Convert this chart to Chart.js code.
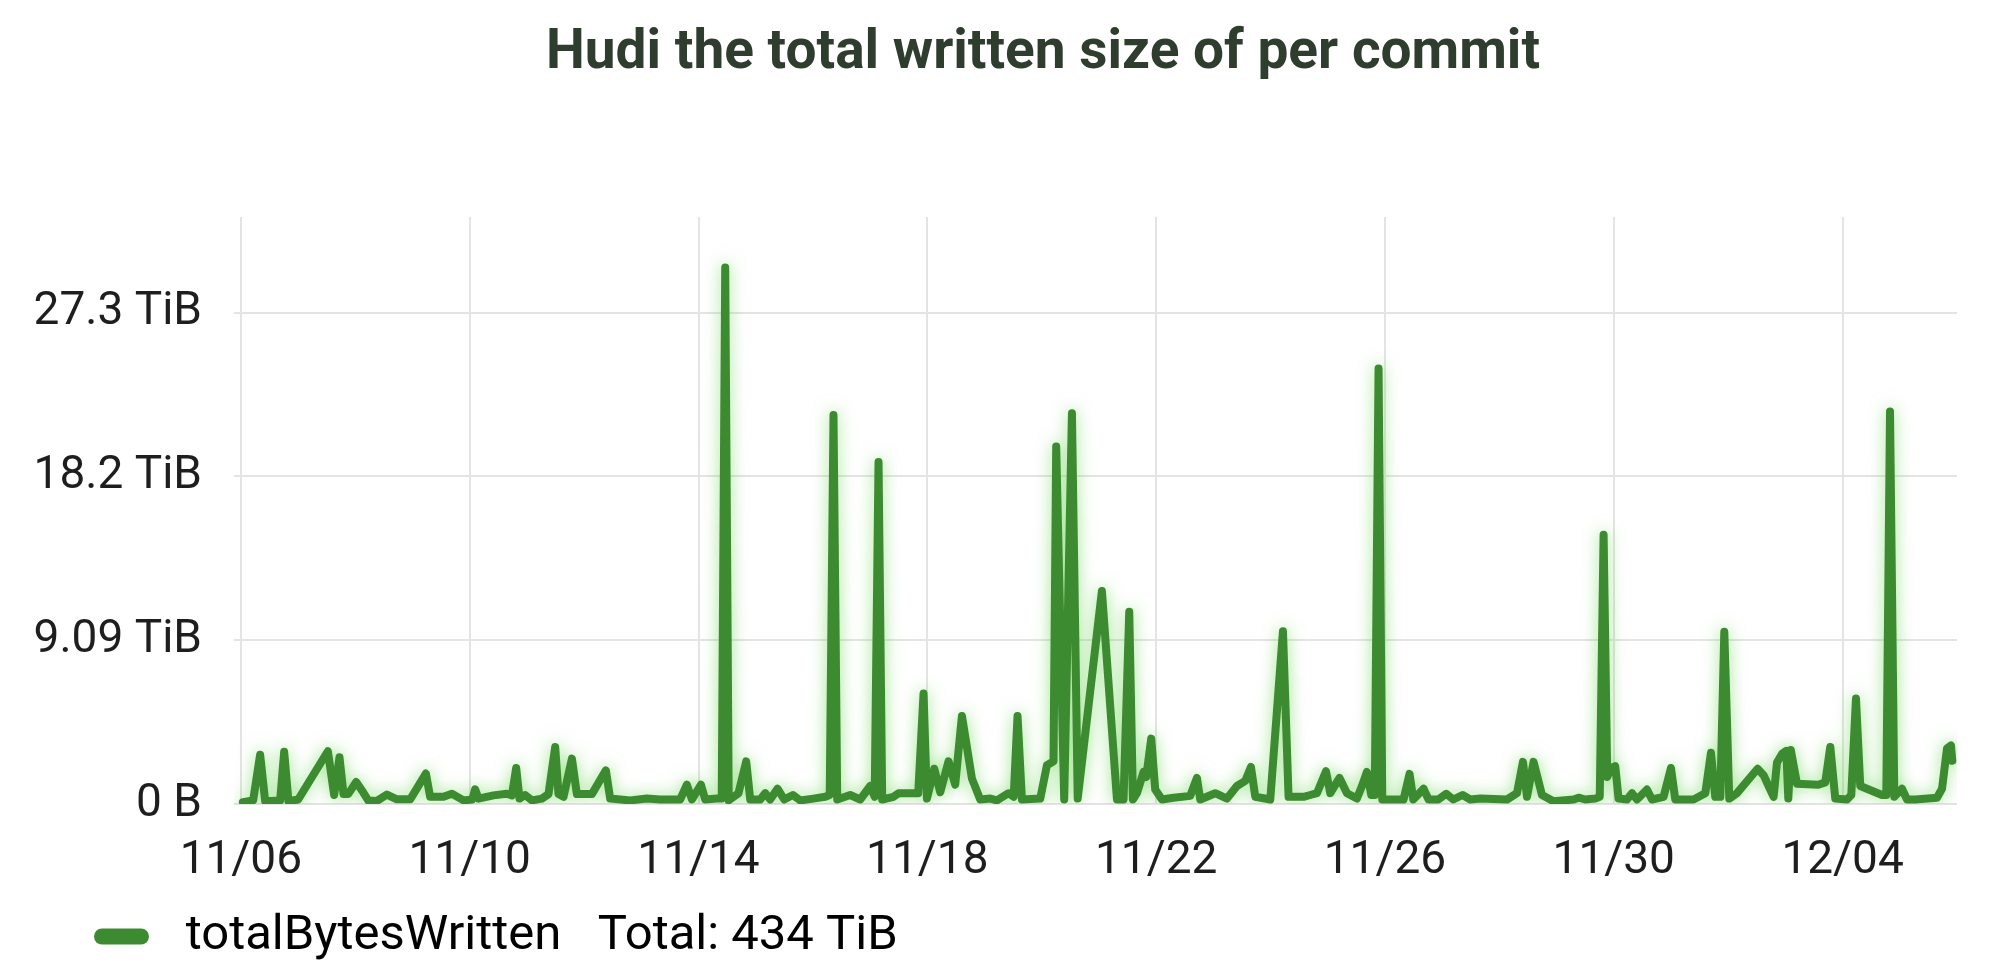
<!DOCTYPE html>
<html>
<head>
<meta charset="utf-8">
<title>Hudi the total written size of per commit</title>
<script src="https://cdn.jsdelivr.net/npm/chart.js@4.4.1/dist/chart.umd.min.js"></script>
<style>
  html, body { margin: 0; padding: 0; background: #ffffff; }
  #wrap { width: 1999px; height: 979px; position: relative; }
</style>
</head>
<body>
<div id="wrap"><canvas id="commitChart"></canvas></div>
<script>
// Commit times in days since 11/06 00:00, and bytes written per commit in TiB
const commitDays = [
  0.035, 0.215, 0.337, 0.425, 0.687, 0.757, 0.832, 1.002, 1.521, 1.631,
  1.724, 1.794, 1.876, 2.016, 2.138, 2.226, 2.378, 2.552, 2.727, 2.960,
  3.234, 3.309, 3.542, 3.689, 3.892, 4.044, 4.096, 4.154, 4.416, 4.650,
  4.738, 4.813, 4.871, 4.970, 5.087, 5.262, 5.378, 5.495, 5.552, 5.640,
  5.787, 5.874, 6.136, 6.381, 6.456, 6.806, 7.098, 7.330, 7.622, 7.680,
  7.797, 7.885, 8.042, 8.117, 8.322, 8.406, 8.467, 8.528, 8.699, 8.834,
  8.904, 9.079, 9.166, 9.253, 9.381, 9.498, 9.650, 9.778, 10.010, 10.215,
  10.294, 10.360, 10.425, 10.652, 10.827, 11.002, 11.080, 11.147, 11.211, 11.409,
  11.497, 11.671, 11.841, 11.934, 11.993, 12.121, 12.226, 12.371, 12.488, 12.605,
  12.780, 12.925, 13.100, 13.217, 13.420, 13.510, 13.577, 13.654, 13.974, 14.091,
  14.206, 14.253, 14.393, 14.528, 14.629, 15.052, 15.315, 15.430, 15.530, 15.594,
  15.664, 15.780, 15.827, 15.914, 15.984, 16.101, 16.304, 16.596, 16.713, 16.771,
  17.033, 17.238, 17.413, 17.558, 17.657, 17.733, 17.995, 18.217, 18.315, 18.577,
  18.694, 18.811, 18.969, 19.044, 19.206, 19.336, 19.510, 19.598, 19.685, 19.761,
  19.822, 19.888, 19.953, 20.325, 20.430, 20.495, 20.675, 20.762, 20.932, 21.072,
  21.194, 21.357, 21.491, 21.666, 22.133, 22.308, 22.413, 22.483, 22.598, 22.745,
  22.948, 23.297, 23.385, 23.502, 23.677, 23.755, 23.822, 23.886, 23.951, 24.026,
  24.084, 24.231, 24.318, 24.406, 24.580, 24.668, 24.871, 25.000, 25.075, 25.395,
  25.600, 25.699, 25.774, 25.862, 25.932, 26.019, 26.154, 26.514, 26.619, 26.706,
  26.794, 26.853, 26.946, 27.016, 27.051, 27.094, 27.203, 27.575, 27.697, 27.785,
  27.872, 28.077, 28.152, 28.234, 28.309, 28.689, 28.764, 28.829, 28.904, 29.038,
  29.126, 29.271, 29.650, 29.738, 29.825, 29.895, 29.918
];

const bytesWrittenTiB = [
  0.1, 0.2, 2.74, 0.15, 0.2, 2.9, 0.15, 0.25, 2.93, 0.5,
  2.6, 0.55, 0.55, 1.22, 0.65, 0.2, 0.17, 0.52, 0.26, 0.26,
  1.69, 0.4, 0.4, 0.57, 0.2, 0.25, 0.82, 0.3, 0.48, 0.57,
  0.48, 2.0, 0.3, 0.5, 0.2, 0.3, 0.55, 3.17, 0.55, 0.4,
  2.52, 0.55, 0.55, 1.87, 0.3, 0.2, 0.3, 0.25, 0.25, 0.25,
  1.07, 0.25, 1.07, 0.25, 0.3, 0.3, 29.8, 0.2, 0.6, 2.37,
  0.25, 0.25, 0.6, 0.25, 0.85, 0.25, 0.5, 0.2, 0.3, 0.4,
  0.5, 21.6, 0.25, 0.5, 0.25, 1.0, 0.4, 19.0, 0.25, 0.4,
  0.6, 0.6, 0.6, 6.14, 0.3, 1.96, 0.65, 2.37, 1.07, 4.89,
  1.41, 0.25, 0.3, 0.2, 0.6, 0.4, 4.89, 0.25, 0.3, 2.15,
  2.37, 19.86, 0.25, 21.7, 0.3, 11.83, 0.25, 0.25, 10.68, 0.25,
  0.6, 1.78, 1.5, 3.63, 0.8, 0.25, 0.35, 0.45, 1.45, 0.25,
  0.6, 0.3, 1.0, 1.28, 2.06, 0.4, 0.25, 9.6, 0.4, 0.4,
  0.5, 0.6, 1.82, 0.6, 1.45, 0.6, 0.3, 1.0, 1.78, 0.5,
  0.5, 24.19, 0.25, 0.25, 1.67, 0.25, 0.85, 0.25, 0.25, 0.57,
  0.25, 0.5, 0.25, 0.3, 0.25, 0.6, 2.34, 0.4, 2.34, 0.5,
  0.15, 0.25, 0.35, 0.25, 0.3, 0.4, 14.96, 1.5, 2.0, 2.1,
  0.3, 0.25, 0.6, 0.25, 0.8, 0.25, 0.4, 2.0, 0.25, 0.25,
  0.6, 2.85, 0.4, 0.4, 9.57, 0.3, 0.6, 1.96, 1.6, 1.0,
  0.4, 2.3, 2.8, 2.95, 0.3, 3.0, 1.13, 1.07, 1.2, 3.17,
  0.3, 0.25, 0.5, 5.86, 1.0, 0.5, 0.5, 21.8, 0.4, 0.85,
  0.25, 0.25, 0.35, 0.85, 3.08, 3.25, 2.4
];

// Axis ticks (10 TB steps shown in TiB)
const xTickDays = [0, 4, 8, 12, 16, 20, 24, 28];
const xTickLabels = ["11/06", "11/10", "11/14", "11/18", "11/22", "11/26", "11/30", "12/04"];
const yTickValues = [0, 9.0949, 18.1899, 27.2848];
const yTickLabels = ["0 B", "9.09 TiB", "18.2 TiB", "27.3 TiB"];

const seriesName = "totalBytesWritten";
const totalText = "Total: 434 TiB";
const chartTitle = "Hudi the total written size of per commit";

const lineGreen = "#3d8b31";
const tickFont = { family: "Roboto", size: 46 };

// soft green glow under the line
const glowPlugin = {
  id: "glow",
  beforeDatasetsDraw(chart) {
    chart.ctx.save();
    chart.ctx.shadowColor = "rgba(95, 210, 70, 0.6)";
    chart.ctx.shadowBlur = 16;
  },
  afterDatasetsDraw(chart) {
    chart.ctx.restore();
  }
};

// the title and legend sit a bit right of the plain layout
const nudgePlugin = {
  id: "nudge",
  afterLayout(chart) {
    chart.legend.left += 53;
    chart.legend.right += 53;
    chart.titleBlock.left += 56;
  }
};

const points = commitDays.map((d, i) => ({ x: d, y: bytesWrittenTiB[i] }));

new Chart(document.getElementById("commitChart"), {
  type: "line",
  data: {
    datasets: [{
      label: seriesName,
      data: points,
      borderColor: lineGreen,
      backgroundColor: lineGreen,
      borderWidth: 8,
      tension: 0,
      pointRadius: 0,
      borderJoinStyle: "round",
      borderCapStyle: "round",
      fill: false
    }]
  },
  options: {
    responsive: true,
    maintainAspectRatio: false,
    animation: false,
    layout: { padding: { left: 31, right: 0, top: 0, bottom: 8 } },
    scales: {
      x: {
        type: "linear",
        min: -0.12,
        max: 30.0,
        afterBuildTicks(scale) {
          scale.ticks = xTickDays.map(v => ({ value: v }));
        },
        afterFit(scale) {
          scale.height = 98;
        },
        ticks: {
          callback: (value) => xTickLabels[xTickDays.indexOf(value)],
          font: tickFont,
          color: "#1e1e1e",
          padding: 30,
          maxRotation: 0,
          autoSkip: false
        },
        grid: { color: "#e4e4e4", lineWidth: 2, drawTicks: false },
        border: { display: false }
      },
      y: {
        min: 0,
        max: 32.6,
        afterBuildTicks(scale) {
          scale.ticks = yTickValues.map(v => ({ value: v }));
        },
        afterFit(scale) {
          scale.width = 203;
        },
        ticks: {
          callback: (value) => yTickLabels[yTickValues.indexOf(value)],
          font: tickFont,
          color: "#1e1e1e",
          padding: 32
        },
        grid: { color: "#e4e4e4", lineWidth: 2, drawTicks: false },
        border: { display: false }
      },
      // empty right axis, keeps the plot clear of the right edge
      yRight: {
        position: "right",
        display: true,
        ticks: { display: false },
        grid: { display: false },
        border: { display: false },
        afterFit(scale) {
          scale.width = 42;
        }
      }
    },
    plugins: {
      title: {
        display: true,
        text: chartTitle,
        color: "#2e3d2d",
        font: { family: "Roboto", size: 55, weight: "bold" },
        padding: { top: 21, bottom: 130 }
      },
      legend: {
        position: "bottom",
        align: "start",
        labels: {
          font: { family: "Roboto", size: 49 },
          color: "#1e1e1e",
          boxWidth: 55,
          boxHeight: 16,
          padding: 10,
          useBorderRadius: true,
          borderRadius: 8,
          generateLabels: () => [{
            text: " " + seriesName + "   " + totalText,
            fillStyle: lineGreen,
            strokeStyle: lineGreen,
            lineWidth: 0,
            borderRadius: 8,
            datasetIndex: 0
          }]
        }
      },
      tooltip: { enabled: false }
    }
  },
  plugins: [glowPlugin, nudgePlugin]
});
</script>
</body>
</html>
